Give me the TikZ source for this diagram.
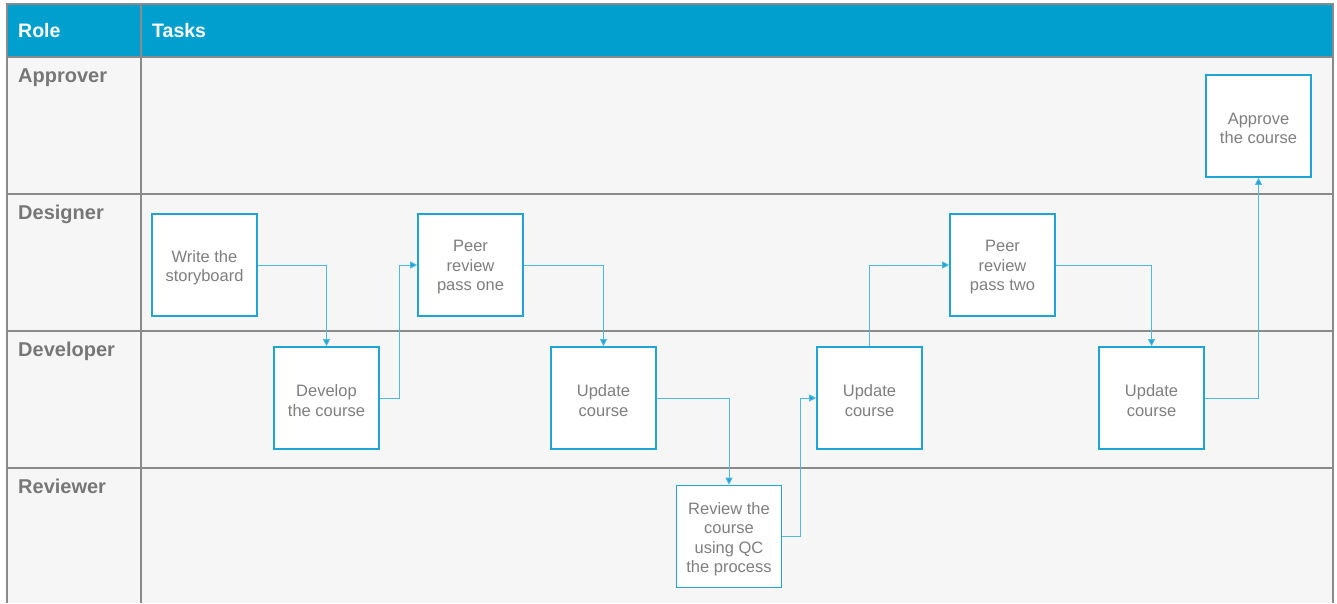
\documentclass[tikz,border=0pt]{standalone}
\usepackage{fontspec}
\setmainfont{Liberation Sans}
\usetikzlibrary{arrows.meta}
\definecolor{hdrblue}{HTML}{009FCE}
\definecolor{boxblue}{HTML}{1FA5D3}
\definecolor{linkblue}{HTML}{4DB8E0}
\definecolor{gridgray}{HTML}{8A8A8A}
\definecolor{txtgray}{HTML}{7F7F7F}
\definecolor{lanegray}{HTML}{777777}
\definecolor{lanebg}{HTML}{F6F6F6}

\begin{document}
\begin{tikzpicture}[x=1pt,y=-1pt,
  task/.style={draw=boxblue,line width=1.6pt,fill=white,minimum width=105pt,
    minimum height=102pt,inner sep=0pt,
    label={[tasktext]center:{#1}}},
  tasktext/.style={align=center,text=txtgray,inner sep=0pt,yshift=-2.5pt,
    font=\fontsize{16.5}{19.5}\selectfont},
  flow/.style={draw=linkblue,line width=0.9pt,
    -{Triangle[length=7pt,width=7pt,fill=boxblue]}},
  lanelabel/.style={anchor=base west,text=lanegray,inner sep=0pt,
    font=\bfseries\fontsize{20}{24}\selectfont},
  hdrlabel/.style={anchor=base west,text=white,inner sep=0pt,
    font=\bfseries\fontsize{19.5}{23}\selectfont},
  grid/.style={draw=gridgray,line width=2pt}]

\useasboundingbox (0,0) rectangle (1337,603);
\fill[white] (0,0) rectangle (1337,603);

% table body and header band
\fill[lanebg] (7,57) rectangle (1333,603);
\fill[hdrblue] (7,4) rectangle (1333,57);

% table rules
\draw[grid] (7,603) -- (7,4) -- (1333,4) -- (1333,603);
\draw[grid] (141,4) -- (141,603);
\foreach \yy in {57,194,331,468}
  \draw[grid] (7,\yy) -- (1333,\yy);

% header and lane titles
\node[hdrlabel] (hrole) at (18,37.5) {Role};
\node[hdrlabel] (htasks) at (152,37.5) {Tasks};
\node[lanelabel] (lapprover) at (18,82.5) {Approver};
\node[lanelabel] (ldesigner) at (18,219.5) {Designer};
\node[lanelabel] (ldeveloper) at (18,356.5) {Developer};
\node[lanelabel] (lreviewer) at (18,493) {Reviewer};

% tasks
\node[task={Write the\\storyboard}]                 (write)   at (204.5,265)  {};
\node[task={Develop\\the course}]                   (develop) at (326.5,398)  {};
\node[task={Peer\\review\\pass one}]                (peer1)   at (470.5,265)  {};
\node[task={Update\\course}]                        (upd1)    at (603.5,398)  {};
\node[task={Review the\\course\\using QC\\the process}] (review) at (729,536.5) {};
\node[task={Update\\course}]                        (upd2)    at (869.5,398)  {};
\node[task={Peer\\review\\pass two}]                (peer2)   at (1002.5,265) {};
\node[task={Update\\course}]                        (upd3)    at (1151.5,398) {};
\node[task={Approve\\the course}]                   (approve) at (1258.5,126) {};

% flow
\draw[flow] (write.east) -| (develop.north);
\draw[flow] (develop.east) -- ++(20,0) |- (peer1.west);
\draw[flow] (peer1.east) -| (upd1.north);
\draw[flow] (upd1.east) -| (review.north);
\draw[flow] (review.east) -- ++(18,0) |- (upd2.west);
\draw[flow] (upd2.north) |- (peer2.west);
\draw[flow] (peer2.east) -| (upd3.north);
\draw[flow] (upd3.east) -| (approve.south);
\end{tikzpicture}
\end{document}
